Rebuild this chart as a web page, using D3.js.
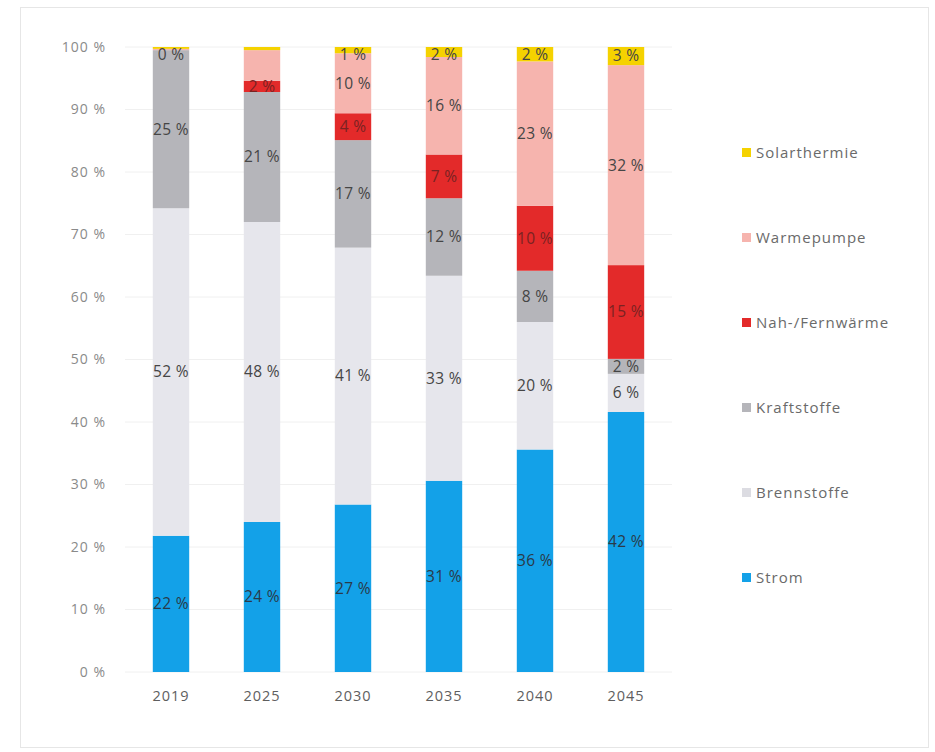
<!DOCTYPE html>
<html>
<head>
<meta charset="utf-8">
<script src="https://cdn.jsdelivr.net/npm/d3@7"></script>
<style>
  body { margin: 0; background: #fff; }
  svg { display: block; }
  text { font-family: "Open Sans", Lato, sans-serif; }
</style>
</head>
<body>
<svg id="chart" width="935" height="752"></svg>
<script>
// Years on the x axis
const years = ["2019", "2025", "2030", "2035", "2040", "2045"];

// Share of final energy per carrier (percent of total)
const strom         = [21.8, 24.0, 26.8, 30.6, 35.6, 41.6];
const brennstoffe   = [52.4, 48.0, 41.1, 32.8, 20.4, 6.1];
const kraftstoffe   = [25.3, 20.8, 17.2, 12.4, 8.2, 2.4];
const nahFernwaerme = [0.0, 1.8, 4.3, 7.0, 10.4, 15.0];
const waermepumpe   = [0.2, 4.9, 9.6, 15.6, 23.1, 32.0];
const solarthermie  = [0.3, 0.5, 1.0, 1.6, 2.3, 2.9];

// Which segments carry a value label (per year)
const labelStrom = [true, true, true, true, true, true];
const labelBrenn = [true, true, true, true, true, true];
const labelKraft = [true, true, true, true, true, true];
const labelNah   = [false, true, true, true, true, true];
const labelWP    = [false, false, true, true, true, true];
const labelSolar = [true, false, true, true, true, true];

const yTicks = [0, 10, 20, 30, 40, 50, 60, 70, 80, 90, 100];

const series = [
  { name: "Strom",          values: strom,         color: "#13a1e8", labels: labelStrom, text: "#2a3a48" },
  { name: "Brennstoffe",    values: brennstoffe,   color: "#e6e6ec", labels: labelBrenn, text: "#454545" },
  { name: "Kraftstoffe",    values: kraftstoffe,   color: "#b5b5ba", labels: labelKraft, text: "#454545" },
  { name: "Nah-/Fernwärme", values: nahFernwaerme, color: "#e32a2a", labels: labelNah,   text: "#7a2222" },
  { name: "Warmepumpe",     values: waermepumpe,   color: "#f6b4ae", labels: labelWP,    text: "#454545" },
  { name: "Solarthermie",   values: solarthermie,  color: "#f5d200", labels: labelSolar, text: "#454545" }
];

const svg = d3.select("#chart");

// Light outer frame
svg.append("rect")
  .attr("x", 20.5).attr("y", 7.5)
  .attr("width", 908).attr("height", 740)
  .attr("fill", "#fff")
  .attr("stroke", "#e6e6e6");

const x = d3.scaleBand().domain(years).range([125.5, 671.5]).paddingInner(0.6).paddingOuter(0.3);
const y = d3.scaleLinear().domain([0, 100]).range([672, 47]);

// Horizontal gridlines
svg.append("g")
  .selectAll("line")
  .data(yTicks)
  .join("line")
  .attr("x1", 125).attr("x2", 672)
  .attr("y1", d => y(d)).attr("y2", d => y(d))
  .attr("stroke", "#f0f0f0").attr("stroke-width", 1);

// Y axis labels
const yAxis = d3.axisLeft(y).tickValues(yTicks).tickSize(0).tickPadding(0)
  .tickFormat(d => d + " %");
svg.append("g")
  .attr("transform", "translate(106,0)")
  .call(yAxis)
  .call(g => g.select(".domain").remove())
  .call(g => g.selectAll("text")
    .attr("fill", "#8a8a8a")
    .style("font-size", "14px")
    .style("letter-spacing", "1px")
    .style("font-family", "'Open Sans', Lato, sans-serif"));

// X axis labels
const xAxis = d3.axisBottom(x).tickSize(0).tickPadding(0);
svg.append("g")
  .attr("transform", "translate(0,691)")
  .call(xAxis)
  .call(g => g.select(".domain").remove())
  .call(g => g.selectAll("text")
    .attr("fill", "#5e5e5e")
    .style("font-size", "14.5px")
    .style("letter-spacing", "1px")
    .style("font-family", "'Open Sans', Lato, sans-serif"));

// Stacked bars
const table = years.map((yr, i) => {
  const row = { year: yr };
  series.forEach(s => { row[s.name] = s.values[i]; });
  return row;
});
const stack = d3.stack().keys(series.map(s => s.name));
const stacked = stack(table);

const fmt = d3.format(".0f");

stacked.forEach((layer, li) => {
  const s = series[li];
  svg.append("g")
    .selectAll("rect")
    .data(layer)
    .join("rect")
    .attr("x", d => x(d.data.year))
    .attr("width", x.bandwidth())
    .attr("y", d => y(d[1]))
    .attr("height", d => Math.max(0, y(d[0]) - y(d[1])))
    .attr("fill", s.color);
});

// Value labels, centred on each segment
stacked.forEach((layer, li) => {
  const s = series[li];
  svg.append("g")
    .selectAll("text")
    .data(layer.map((d, i) => ({ d, i })).filter(o => s.labels[o.i]))
    .join("text")
    .attr("x", o => x(o.d.data.year) + x.bandwidth() / 2)
    .attr("y", o => {
      const mid = (y(o.d[0]) + y(o.d[1])) / 2;
      return Math.max(mid, 55);
    })
    .attr("dy", "0.35em")
    .attr("text-anchor", "middle")
    .attr("fill", s.text)
    .style("font-size", "15.5px")
    .style("letter-spacing", "0.3px")
    .text(o => fmt(o.d.data[s.name]) + " %");
});

// Legend, top entry first
const legendNames = series.map(s => s.name).slice().reverse();
const legendY = d3.scalePoint().domain(legendNames).range([153, 578]);
const lg = svg.append("g");
legendNames.forEach(name => {
  const s = series.find(e => e.name === name);
  const yy = legendY(name);
  lg.append("rect")
    .attr("x", 742).attr("y", yy - 5)
    .attr("width", 9).attr("height", 9)
    .attr("fill", s.color === "#e6e6ec" ? "#dcdce2" : s.color);
  lg.append("text")
    .attr("x", 756).attr("y", yy)
    .attr("dy", "0.35em")
    .attr("fill", "#6a6a6a")
    .style("font-size", "15px")
    .style("letter-spacing", "1px")
    .text(name);
});
</script>
</body>
</html>
